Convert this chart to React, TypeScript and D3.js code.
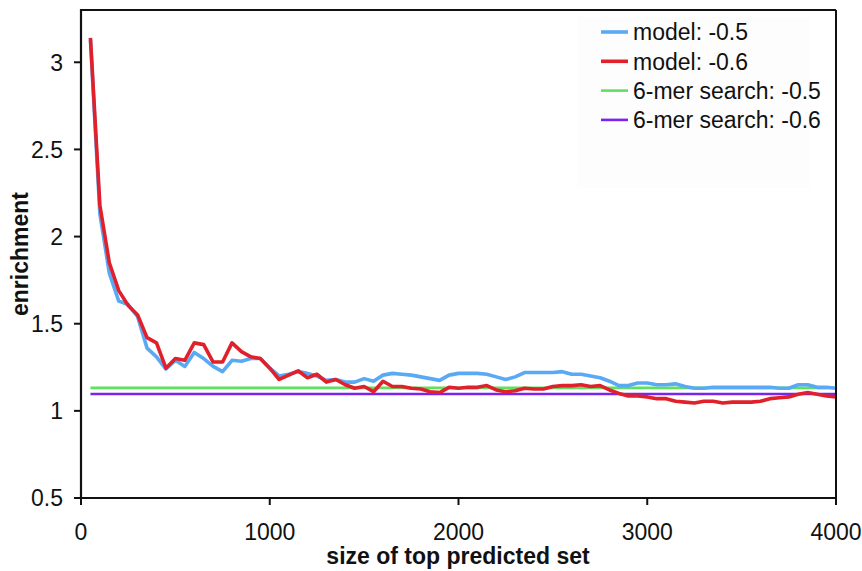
import React from "react";
import * as d3 from "d3";

const sizes = [
  50, 100, 150, 200, 250, 300, 350, 400, 450, 500, 550, 600, 650, 700, 750, 800, 850, 900, 950, 1000,
  1050, 1100, 1150, 1200, 1250, 1300, 1350, 1400, 1450, 1500, 1550, 1600, 1650, 1700, 1750, 1800, 1850, 1900, 1950, 2000,
  2050, 2100, 2150, 2200, 2250, 2300, 2350, 2400, 2450, 2500, 2550, 2600, 2650, 2700, 2750, 2800, 2850, 2900, 2950, 3000,
  3050, 3100, 3150, 3200, 3250, 3300, 3350, 3400, 3450, 3500, 3550, 3600, 3650, 3700, 3750, 3800, 3850, 3900, 3950, 4000,
];

const model05 = [
  3.13, 2.13, 1.79, 1.63, 1.61, 1.54, 1.36, 1.31, 1.24, 1.29, 1.255, 1.335, 1.3, 1.255, 1.225, 1.29, 1.285, 1.3, 1.3, 1.245,
  1.2, 1.21, 1.225, 1.215, 1.2, 1.175, 1.18, 1.165, 1.165, 1.185, 1.17, 1.205, 1.215, 1.21, 1.205, 1.195, 1.185, 1.175, 1.205, 1.215,
  1.215, 1.215, 1.21, 1.195, 1.18, 1.195, 1.22, 1.22, 1.22, 1.22, 1.225, 1.21, 1.21, 1.2, 1.19, 1.17, 1.145, 1.145, 1.16, 1.16,
  1.15, 1.15, 1.155, 1.14, 1.13, 1.13, 1.135, 1.135, 1.135, 1.135, 1.135, 1.135, 1.135, 1.13, 1.13, 1.15, 1.15, 1.135, 1.135, 1.13,
];

const model06 = [
  3.14, 2.18, 1.85, 1.69, 1.605, 1.55, 1.42, 1.39, 1.245, 1.3, 1.29, 1.39, 1.38, 1.28, 1.28, 1.39, 1.34, 1.31, 1.3, 1.245,
  1.18, 1.205, 1.23, 1.19, 1.21, 1.165, 1.18, 1.15, 1.13, 1.14, 1.11, 1.17, 1.14, 1.14, 1.13, 1.125, 1.11, 1.105, 1.135, 1.13,
  1.135, 1.135, 1.145, 1.12, 1.11, 1.115, 1.13, 1.125, 1.125, 1.14, 1.145, 1.145, 1.15, 1.14, 1.145, 1.12, 1.1, 1.085, 1.085, 1.08,
  1.07, 1.07, 1.055, 1.05, 1.045, 1.055, 1.055, 1.045, 1.05, 1.05, 1.05, 1.055, 1.07, 1.075, 1.08, 1.095, 1.105, 1.095, 1.085, 1.08,
];

const search05 = 1.132;
const search06 = 1.097;
const searchRange = [50, 4000];

const seriesNames = ["model: -0.5", "model: -0.6", "6-mer search: -0.5", "6-mer search: -0.6"];
const seriesColors = ["#5aa9f5", "#e0202a", "#5fe05f", "#7a24f0"];

const xTicks = [0, 1000, 2000, 3000, 4000];
const yTicks = [0.5, 1, 1.5, 2, 2.5, 3];

const W = 862;
const H = 571;
const L = 81, R = 836, T = 10, B = 498;
const FONT = "'Liberation Sans', Arial, sans-serif";
const FS = 23;

export default function App() {
  const x = d3.scaleLinear().domain([0, 4000]).range([L, R]);
  const y = d3.scaleLinear().domain([0.5, 3.3]).range([B, T]);

  const line = d3
    .line<number>()
    .x((_, i) => x(sizes[i]))
    .y((d) => y(d));

  const hline = (v: number) =>
    d3.line<number>().x((d) => x(d)).y(() => y(v))(searchRange) || "";

  return (
    <svg
      width={W}
      height={H}
      style={{ position: "absolute", left: 0, top: 0, background: "#fff" }}
      fontFamily={FONT}
    >
      <rect x={0} y={0} width={W} height={H} fill="#fff" />
      {/* legend faint background */}
      <rect x={577} y={17} width={233} height={171} fill="#fdfdfd" />

      {/* horizontal search lines */}
      <path d={hline(search05)} stroke={seriesColors[2]} strokeWidth={2.6} fill="none" />
      <path d={hline(search06)} stroke={seriesColors[3]} strokeWidth={2.6} fill="none" />

      {/* model lines */}
      <path d={line(model05) || ""} stroke={seriesColors[0]} strokeWidth={3.6} fill="none" strokeLinejoin="round" />
      <path d={line(model06) || ""} stroke={seriesColors[1]} strokeWidth={3.6} fill="none" strokeLinejoin="round" />

      {/* frame */}
      <line x1={L} y1={T} x2={R} y2={T} stroke="#111" strokeWidth={2} />
      <line x1={R} y1={T} x2={R} y2={B} stroke="#111" strokeWidth={2} />
      <line x1={L} y1={T - 1} x2={L} y2={B + 1} stroke="#111" strokeWidth={2.2} />
      <line x1={L - 1} y1={B} x2={R + 1} y2={B} stroke="#111" strokeWidth={2.2} />

      {/* y ticks */}
      {yTicks.map((t) => (
        <g key={"y" + t}>
          <line x1={L - 7} x2={L} y1={y(t)} y2={y(t)} stroke="#111" strokeWidth={2} />
          <text x={L - 18} y={y(t)} dy="0.36em" textAnchor="end" fontSize={FS} fill="#111">
            {String(t)}
          </text>
        </g>
      ))}

      {/* x ticks */}
      {xTicks.map((t) => (
        <g key={"x" + t}>
          <line x1={x(t)} x2={x(t)} y1={B} y2={B + 7} stroke="#111" strokeWidth={2} />
          <text x={x(t)} y={540} textAnchor="middle" fontSize={FS} fill="#111">
            {String(t)}
          </text>
        </g>
      ))}

      {/* axis titles */}
      <text x={458} y={564} textAnchor="middle" fontSize={FS} fontWeight="bold" fill="#111">
        size of top predicted set
      </text>
      <text
        transform={`translate(28, ${(T + B) / 2}) rotate(-90)`}
        textAnchor="middle"
        fontSize={FS}
        fontWeight="bold"
        fill="#111"
      >
        enrichment
      </text>

      {/* legend */}
      {seriesNames.map((name, i) => (
        <g key={name} transform={`translate(601, ${32 + i * 29.3})`}>
          <line x1={0} x2={27} y1={0} y2={0} stroke={seriesColors[i]} strokeWidth={i < 2 ? 3.6 : 2.6} />
          <text x={32} y={0} dy="0.36em" fontSize={FS} fill="#111">
            {name}
          </text>
        </g>
      ))}
    </svg>
  );
}
